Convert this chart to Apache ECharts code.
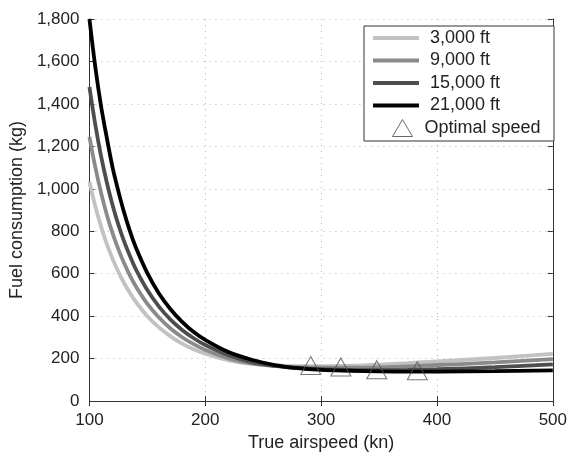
<!DOCTYPE html>
<html>
<head>
<meta charset="utf-8">
<script src="https://cdn.jsdelivr.net/npm/echarts@6/dist/echarts.min.js"></script>
<style>
  html, body { margin: 0; padding: 0; background: #fff; }
  #chart { width: 570px; height: 457px; }
</style>
</head>
<body>
<div id="chart"></div>
<script>
// speeds (kn) where the curves were read
var speeds = [100, 105, 110, 115, 120, 125, 130, 135, 140, 150, 160, 170, 180, 190, 200,
              220, 240, 260, 280, 300, 325, 350, 375, 400, 450, 500];
// fuel consumption (kg) per altitude
var fuel3000  = [1033, 919, 823, 740, 670, 608, 555, 509, 468, 400, 347, 305, 271, 244, 223,
                 192, 175, 168, 165, 165, 167, 172, 179, 187, 203, 222];
var fuel9000  = [1245, 1103, 982, 878, 790, 715, 649, 591, 541, 458, 394, 342, 301, 268, 241,
                 201, 178, 166, 160, 157, 157, 159, 163, 170, 182, 198];
var fuel15000 = [1480, 1304, 1155, 1030, 923, 830, 751, 683, 622, 523, 445, 384, 335, 296, 264,
                 216, 184, 166, 155, 150, 147, 146, 147, 150, 160, 173];
var fuel21000 = [1800, 1576, 1390, 1240, 1100, 988, 887, 800, 725, 603, 507, 433, 373, 325, 288,
                 231, 195, 170, 155, 147, 143, 140, 139, 139, 141, 145];
// optimal speed markers
var optSpeed = [291, 317, 348, 383];
var optFuel  = [168, 161, 148, 143];

var names  = ['3,000 ft', '9,000 ft', '15,000 ft', '21,000 ft'];
var colors = ['#c2c2c2', '#8a8a8a', '#4e4e4e', '#000000'];
var curves = [fuel3000, fuel9000, fuel15000, fuel21000];

var FONT = 'Liberation Sans';

function pairs(xs, ys) {
  var out = [];
  for (var i = 0; i < xs.length; i++) out.push([xs[i], ys[i]]);
  return out;
}
function commas(v) {
  return String(v).replace(/\B(?=(\d{3})+(?!\d))/g, ',');
}

var series = [];
for (var k = 0; k < curves.length; k++) {
  series.push({
    name: names[k],
    type: 'line',
    smooth: 0.35,
    showSymbol: false,
    data: pairs(speeds, curves[k]),
    lineStyle: { color: colors[k], width: 3.8 },
    itemStyle: { color: colors[k] },
    z: 2 + k
  });
}
series.push({
  name: 'Optimal speed',
  type: 'scatter',
  symbol: 'triangle',
  symbolSize: [20, 18],
  data: pairs(optSpeed, optFuel),
  itemStyle: { color: 'rgba(0,0,0,0)', borderColor: '#555', borderWidth: 1 },
  z: 8
});

var gridLine = { show: true, lineStyle: { color: '#b5b5b5', type: [1, 5], width: 1 } };
var axisLine = { show: true, lineStyle: { color: '#333', width: 1 } };

var option = {
  animation: false,
  backgroundColor: '#fff',
  textStyle: { fontFamily: FONT },
  grid: { left: 88, right: 15, top: 19, bottom: 48 },
  xAxis: [{
    type: 'value', min: 100, max: 500, interval: 100,
    name: 'True airspeed (kn)', nameLocation: 'middle', nameGap: 29,
    nameTextStyle: { fontFamily: FONT, fontSize: 18, color: '#222' },
    axisLine: axisLine,
    axisTick: { show: true, inside: true, length: 5, lineStyle: { color: '#333' } },
    axisLabel: { fontFamily: FONT, fontSize: 17, color: '#222', margin: 11 },
    splitLine: gridLine
  }, {
    type: 'value', min: 100, max: 500, interval: 100, position: 'top',
    axisLine: axisLine,
    axisTick: { show: true, inside: true, length: 5, lineStyle: { color: '#333' } },
    axisLabel: { show: false },
    splitLine: { show: false }
  }],
  yAxis: [{
    type: 'value', min: 0, max: 1800, interval: 200,
    name: 'Fuel consumption (kg)', nameLocation: 'middle', nameGap: 45,
    nameTextStyle: { fontFamily: FONT, fontSize: 18, color: '#222' },
    axisLine: axisLine,
    axisTick: { show: true, inside: true, length: 5, lineStyle: { color: '#333' } },
    axisLabel: { fontFamily: FONT, fontSize: 17, color: '#222', margin: 10, formatter: commas },
    splitLine: gridLine
  }, {
    type: 'value', min: 0, max: 1800, interval: 200, position: 'right',
    axisLine: axisLine,
    axisTick: { show: true, inside: true, length: 5, lineStyle: { color: '#333' } },
    axisLabel: { show: false },
    splitLine: { show: false }
  }],
  // legend box (white, covers grid lines)
  graphic: [{
    type: 'rect', z: 20,
    shape: { x: 364, y: 26, width: 190, height: 115 },
    style: { fill: '#fff', stroke: '#333', lineWidth: 1 }
  }],
  legend: [{
    data: names, orient: 'vertical', left: 373, top: 29, padding: 0,
    itemWidth: 46, itemHeight: 4, itemGap: 4.5, z: 30,
    icon: 'rect', selectedMode: false,
    textStyle: { fontFamily: FONT, fontSize: 18, color: '#222', lineHeight: 18, padding: [0, 0, 0, 6] }
  }, {
    data: ['Optimal speed'], orient: 'vertical', left: 392, top: 119, padding: 0,
    itemWidth: 20, itemHeight: 17, z: 30, selectedMode: false,
    itemStyle: { color: 'rgba(0,0,0,0)', borderColor: '#444', borderWidth: 1 },
    textStyle: { fontFamily: FONT, fontSize: 18, color: '#222', padding: [0, 0, 0, 7] }
  }],
  series: series
};

var myChart = echarts.init(document.getElementById('chart'));
myChart.setOption(option);
</script>
</body>
</html>
